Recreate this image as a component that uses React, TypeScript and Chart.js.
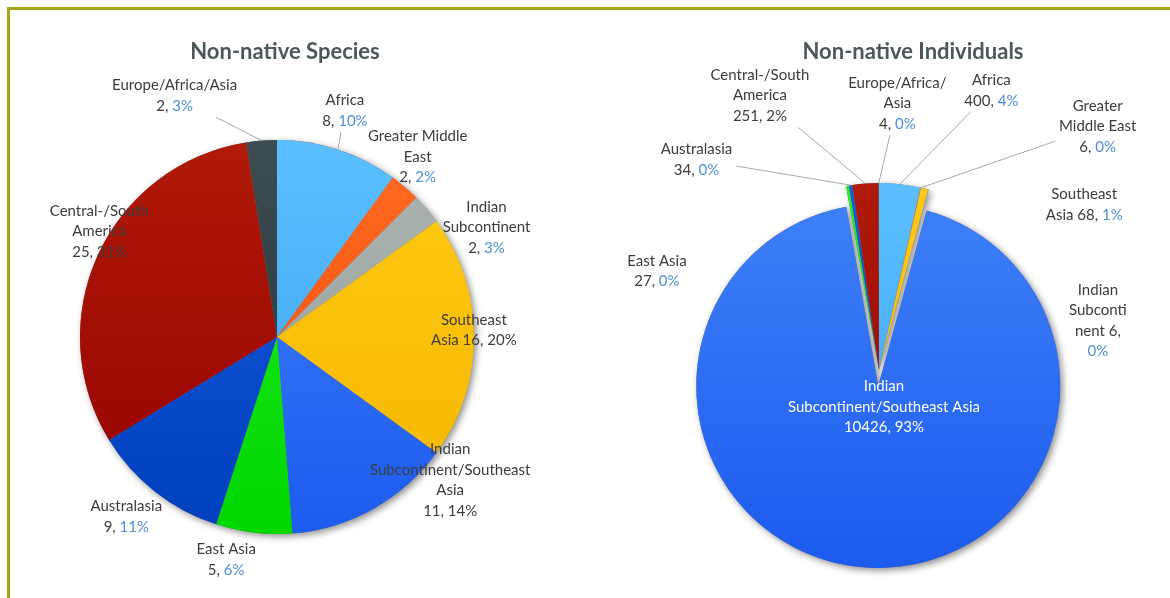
import React, { useEffect, useRef } from "react";
import { Chart, PieController, ArcElement } from "chart.js";

Chart.register(PieController, ArcElement);

// ---------------- data ----------------
const speciesTitle = "Non-native Species";
const speciesCategories = [
  "Africa",
  "Greater Middle East",
  "Indian Subcontinent",
  "Southeast Asia",
  "Indian Subcontinent/Southeast Asia",
  "East Asia",
  "Australasia",
  "Central-/South America",
  "Europe/Africa/Asia",
];
const speciesValues = [8, 2, 2, 16, 11, 5, 9, 25, 2];
const speciesPercents = [10, 2, 3, 20, 14, 6, 11, 31, 3];

const individualsTitle = "Non-native Individuals";
const individualsCategories = [
  "Africa",
  "Greater Middle East",
  "Southeast Asia",
  "Indian Subcontinent",
  "Indian Subcontinent/Southeast Asia",
  "East Asia",
  "Australasia",
  "Central-/South America",
  "Europe/Africa/Asia",
];
const individualsValues = [400, 6, 68, 6, 10426, 27, 34, 251, 4];
const individualsPercents = [4, 0, 1, 0, 93, 0, 0, 2, 0];

// ---------------- styles ----------------
const FONT = "Lato, 'Open Sans', sans-serif";
const TEXT = "#3c3c3c";
const BLUE_PCT = "#4f8fd6";
const WHITE = "#ffffff";
const TITLE_COLOR = "#4b585b";
const LEADER = "#a8a8a8";
const LABEL_SIZE = 15;
const TITLE_SIZE = 22;
const LINE_H = 20.5;

const sliceColors: Record<string, [string, string]> = {
  "Africa": ["#5cc0ff", "#38a0f0"],
  "Greater Middle East": ["#ff6c22", "#f04a0a"],
  "Indian Subcontinent": ["#adb5b3", "#959d9b"],
  "Southeast Asia": ["#ffca14", "#f5b700"],
  "Indian Subcontinent/Southeast Asia": ["#4082f8", "#1d5bee"],
  "East Asia": ["#22ee22", "#00d600"],
  "Australasia": ["#155bdc", "#003fbe"],
  "Central-/South America": ["#b01a08", "#940000"],
  "Europe/Africa/Asia": ["#3c4c50", "#243236"],
};

type LabelStyle = {
  text: string;
  nudge: number; // degrees added to the slice mid angle
  dist: number; // distance from centre, in radii
  pct: string;
  color?: string;
  leader?: boolean;
};

const speciesLabels: LabelStyle[] = [
  { text: "Africa\n{v}, {p}", nudge: -1.3, dist: 1.2, pct: BLUE_PCT, leader: true },
  { text: "Greater Middle\nEast\n{v}, {p}", nudge: -2.5, dist: 1.16, pct: BLUE_PCT },
  { text: "Indian\nSubcontinent\n{v}, {p}", nudge: 12.9, dist: 1.2, pct: BLUE_PCT },
  { text: "Southeast\nAsia {v}, {p}", nudge: -2, dist: 1.0, pct: TEXT },
  { text: "Indian\nSubcontinent/Southeast\nAsia\n{v}, {p}", nudge: -21.2, dist: 1.14, pct: TEXT },
  { text: "East Asia\n{v}, {p}", nudge: 6.1, dist: 1.16, pct: BLUE_PCT },
  { text: "Australasia\n{v}, {p}", nudge: 1.75, dist: 1.19, pct: BLUE_PCT },
  { text: "Central-/South\nAmerica\n{v}, {p}", nudge: 6, dist: 1.05, pct: TEXT },
  { text: "Europe/Africa/Asia\n{v}, {p}", nudge: -18.5, dist: 1.33, pct: BLUE_PCT, leader: true },
];

const individualsLabels: LabelStyle[] = [
  { text: "Africa\n{v}, {p}", nudge: 15.5, dist: 1.61, pct: BLUE_PCT, leader: true },
  { text: "Greater\nMiddle East\n{v}, {p}", nudge: 29, dist: 1.75, pct: BLUE_PCT, leader: true },
  { text: "Southeast\nAsia {v}, {p}", nudge: 37, dist: 1.41, pct: BLUE_PCT },
  { text: "Indian\nSubconti\nnent {v},\n{p}", nudge: 62, dist: 1.2, pct: BLUE_PCT },
  { text: "Indian\nSubcontinent/Southeast Asia\n{v}, {p}", nudge: -10.3, dist: 0.2, pct: WHITE, color: WHITE },
  { text: "East Asia\n{v}, {p}", nudge: -56.3, dist: 1.3, pct: BLUE_PCT },
  { text: "Australasia\n{v}, {p}", nudge: -32.2, dist: 1.49, pct: BLUE_PCT, leader: true },
  { text: "Central-/South\nAmerica\n{v}, {p}", nudge: -19.3, dist: 1.6, pct: TEXT, leader: true },
  { text: "Europe/Africa/\nAsia\n{v}, {p}", nudge: 4, dist: 1.43, pct: BLUE_PCT, leader: true },
];

type PieSpec = {
  title: string;
  titleX: number;
  titleY: number;
  categories: string[];
  values: number[];
  percents: number[];
  labels: LabelStyle[];
  radius: number;
  padding: { left: number; right: number; top: number; bottom: number };
  explode: number[];
  radiusAdjust: number[];
};

const speciesSpec: PieSpec = {
  title: speciesTitle,
  titleX: 285,
  titleY: 52,
  categories: speciesCategories,
  values: speciesValues,
  percents: speciesPercents,
  labels: speciesLabels,
  radius: 197,
  padding: { left: 0, right: 31, top: 76, bottom: 0 },
  explode: [0, 0, 0, 0, 0, 0, 0, 0, 0],
  radiusAdjust: [0, 0, 0, 0, 0, 0, 0, 0, 0],
};

const individualsSpec: PieSpec = {
  title: individualsTitle,
  titleX: 328,
  titleY: 52,
  categories: individualsCategories,
  values: individualsValues,
  percents: individualsPercents,
  labels: individualsLabels,
  radius: 187,
  padding: { left: 3, right: 0, top: 142, bottom: 0 },
  explode: [0, 0, 0, 0, 16, 0, 0, 0, 0],
  radiusAdjust: [0, 0, 0, 0, -5, 0, 0, 0, 0],
};

function makePlugin(spec: PieSpec) {
  return {
    id: "pieDecor",
    afterDatasetUpdate(chart: any, args: any) {
      const meta = args.meta;
      meta.data.forEach((el: any, i: number) => {
        const e = spec.explode[i] || 0;
        if (e) {
          const mid = (el.startAngle + el.endAngle) / 2;
          el.x += Math.cos(mid) * e;
          el.y += Math.sin(mid) * e;
        }
        if (spec.radiusAdjust[i]) el.outerRadius += spec.radiusAdjust[i];
      });
    },
    beforeDatasetsDraw(chart: any) {
      const ctx = chart.ctx;
      const meta = chart.getDatasetMeta(0);
      ctx.save();
      ctx.shadowColor = "rgba(0,0,0,0.45)";
      ctx.shadowBlur = 7;
      ctx.shadowOffsetX = 2.5;
      ctx.shadowOffsetY = 2.5;
      ctx.fillStyle = "#777";
      meta.data.forEach((el: any) => {
        ctx.beginPath();
        ctx.moveTo(el.x, el.y);
        ctx.arc(el.x, el.y, el.outerRadius, el.startAngle, el.endAngle);
        ctx.closePath();
        ctx.fill();
      });
      ctx.restore();
    },
    afterDraw(chart: any) {
      const ctx = chart.ctx;
      const ca = chart.chartArea;
      const cx = (ca.left + ca.right) / 2;
      const cy = (ca.top + ca.bottom) / 2;
      const R = spec.radius;
      const meta = chart.getDatasetMeta(0);
      ctx.save();
      ctx.textBaseline = "middle";
      ctx.textAlign = "center";
      ctx.fillStyle = TITLE_COLOR;
      ctx.font = `bold ${TITLE_SIZE}px ${FONT}`;
      ctx.fillText(spec.title, spec.titleX, spec.titleY);

      ctx.font = `${LABEL_SIZE}px ${FONT}`;
      ctx.textAlign = "left";
      meta.data.forEach((el: any, i: number) => {
        const L = spec.labels[i];
        const mid = (el.startAngle + el.endAngle) / 2;
        const a = mid + (L.nudge * Math.PI) / 180;
        const lx = cx + Math.cos(a) * R * L.dist;
        const ly = cy + Math.sin(a) * R * L.dist;
        const pctStr = spec.percents[i] + "%";
        const lines = L.text.replace("{v}", String(spec.values[i])).split("\n");
        const segs = lines.map((ln) => {
          const parts = ln.split("{p}");
          const out: { t: string; c: string }[] = [];
          parts.forEach((p, k) => {
            if (p) out.push({ t: p, c: L.color || TEXT });
            if (k < parts.length - 1) out.push({ t: pctStr, c: L.pct });
          });
          return out;
        });
        const widths = segs.map((s) => s.reduce((w, g) => w + ctx.measureText(g.t).width, 0));
        const boxW = Math.max(...widths);
        const boxH = lines.length * LINE_H;
        segs.forEach((s, k) => {
          const y = ly + (k - (lines.length - 1) / 2) * LINE_H;
          let x = lx - widths[k] / 2;
          s.forEach((g) => {
            ctx.fillStyle = g.c;
            ctx.fillText(g.t, x, y);
            x += ctx.measureText(g.t).width;
          });
        });
        if (L.leader) {
          const px = el.x + Math.cos(mid) * el.outerRadius;
          const py = el.y + Math.sin(mid) * el.outerRadius;
          const dx = px - lx;
          const dy = py - ly;
          const tx = Math.abs(dx) > 0.001 ? (boxW / 2 + 4) / Math.abs(dx) : Infinity;
          const ty = Math.abs(dy) > 0.001 ? (boxH / 2 + 1) / Math.abs(dy) : Infinity;
          const t = Math.min(tx, ty);
          ctx.strokeStyle = LEADER;
          ctx.lineWidth = 1;
          ctx.beginPath();
          ctx.moveTo(lx + dx * t, ly + dy * t);
          ctx.lineTo(px, py);
          ctx.stroke();
        }
      });
      ctx.restore();
    },
  };
}

function PieCanvas({ spec, left }: { spec: PieSpec; left: number }) {
  const ref = useRef<HTMLCanvasElement | null>(null);
  useEffect(() => {
    if (!ref.current) return;
    const R = spec.radius;
    const chart = new Chart(ref.current, {
      type: "pie",
      data: {
        labels: spec.categories,
        datasets: [
          {
            data: spec.values,
            borderWidth: 0,
            clip: false as any,
            backgroundColor: (c: any) => {
              const name = spec.categories[c.dataIndex];
              const pair = sliceColors[name] || ["#999", "#777"];
              const ca = c.chart.chartArea;
              if (!ca) return pair[1];
              const cy = (ca.top + ca.bottom) / 2;
              const g = c.chart.ctx.createLinearGradient(0, cy - R, 0, cy + R);
              g.addColorStop(0, pair[0]);
              g.addColorStop(1, pair[1]);
              return g;
            },
          } as any,
        ],
      },
      options: {
        animation: false,
        responsive: true,
        maintainAspectRatio: false,
        events: [],
        radius: R,
        rotation: 0,
        layout: { padding: spec.padding },
        plugins: { legend: { display: false }, tooltip: { enabled: false } },
      } as any,
      plugins: [makePlugin(spec)],
    });
    return () => chart.destroy();
  }, [spec]);
  return (
    <div style={{ position: "absolute", left, top: 0, width: 585, height: 598 }}>
      <canvas ref={ref} />
    </div>
  );
}

export default function App() {
  return (
    <div
      style={{
        position: "fixed",
        left: 0,
        top: 0,
        width: 1170,
        height: 598,
        background: "#ffffff",
        overflow: "hidden",
      }}
    >
      <div style={{ position: "absolute", left: 7, top: 7, right: 0, height: 3, background: "#a3a31c" }} />
      <div style={{ position: "absolute", left: 7, top: 7, width: 3, bottom: 0, background: "#a3a31c" }} />
      <PieCanvas spec={speciesSpec} left={0} />
      <PieCanvas spec={individualsSpec} left={585} />
    </div>
  );
}
